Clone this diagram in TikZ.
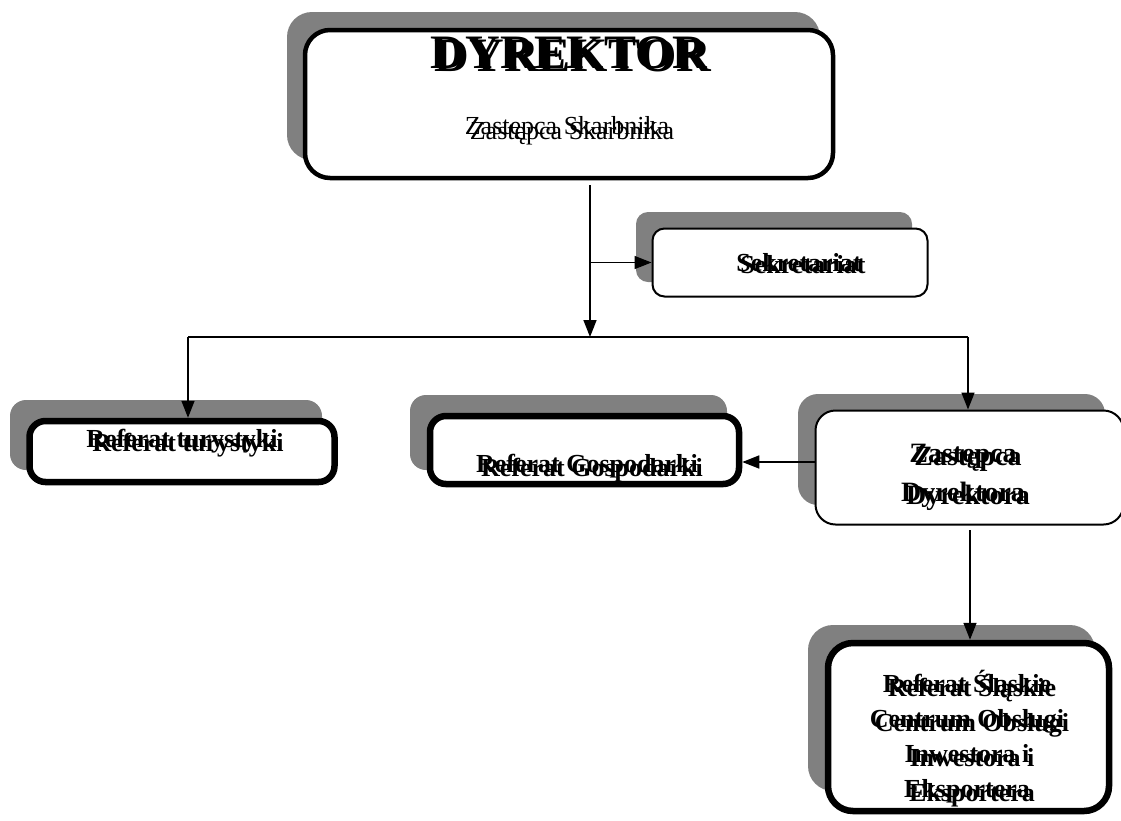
\documentclass[tikz,border=0pt]{standalone}
\usepackage{fontspec}
\setmainfont{Liberation Serif}
\usetikzlibrary{arrows.meta,calc}
\definecolor{shadowgray}{HTML}{808080}
\begin{document}
\begin{tikzpicture}[x=1pt,y=-1pt,
  box/.style={draw=black, fill=white, rectangle, inner sep=0pt},
  thickbox/.style={box, line width=6.5pt},
  thinbox/.style={box, line width=2pt},
  shd/.style={fill=shadowgray, draw=none, rectangle, inner sep=0pt},
  conn/.style={line width=1.6pt, draw=black},
  arr/.style={conn, -{Triangle[length=17pt,width=13pt]}},
  lbl/.style={font=\bfseries\fontsize{26}{35}\selectfont, align=center, inner sep=0pt, text=black},
  lblr/.style={font=\fontsize{26}{35}\selectfont, align=center, inner sep=0pt, text=black},
  big/.style={font=\bfseries\fontsize{48}{50}\selectfont, inner sep=0pt, text=black},
]
\useasboundingbox (0,0) rectangle (1121,820);
\fill[white] (0,0) rectangle (1121,820);

% shadows
\node[shd, minimum width=533pt, minimum height=148pt, rounded corners=25pt] (dyrS) at (553.5,86) {};
\node[shd, minimum width=276pt, minimum height=70pt, rounded corners=12pt] (sekS) at (774,247) {};
\node[shd, minimum width=312pt, minimum height=70pt, rounded corners=16pt] (turS) at (166,435) {};
\node[shd, minimum width=317pt, minimum height=75pt, rounded corners=16pt] (gosS) at (568.5,432.5) {};
\node[shd, minimum width=307pt, minimum height=111pt, rounded corners=20pt] (zasS) at (951.5,449.5) {};
\node[shd, minimum width=287pt, minimum height=166pt, rounded corners=25pt] (slaS) at (951.5,708) {};

% boxes
\node[box, line width=4.5pt, minimum width=528pt, minimum height=148pt, rounded corners=25pt] (dyr) at (569,104) {};
\node[thinbox, minimum width=275pt, minimum height=68pt, rounded corners=12pt] (sek) at (790,262.5) {};
\node[thickbox, minimum width=305pt, minimum height=61pt, rounded corners=16pt] (tur) at (182,451.5) {};
\node[thickbox, minimum width=309pt, minimum height=68pt, rounded corners=16pt] (gos) at (584.5,450) {};
\node[thinbox, minimum width=308pt, minimum height=114pt, rounded corners=20pt] (zas) at (969.5,467.5) {};
\node[thickbox, minimum width=281pt, minimum height=168pt, rounded corners=25pt] (sla) at (968.5,727) {};

% texts (printed twice, slightly offset, as in the reference)
\node[big] (dyrTa) at (569,53) {DYREKTOR};
\node[big] (dyrTb) at (573,56) {DYREKTOR};
\node[lblr] (skaTa) at (567,128) {Zastępca Skarbnika};
\node[lblr] (skaTb) at (572,133) {Zastępca Skarbnika};
\node[lbl] (sekTa) at (799,263) {Sekretariat};
\node[lbl] (sekTb) at (803,265) {Sekretariat};
\node[lbl] (turTa) at (182,441) {Referat turystyki};
\node[lbl] (turTb) at (188,445) {Referat turystyki};
\node[lbl] (gosTa) at (587,466) {Referat Gospodarki};
\node[lbl] (gosTb) at (592,470) {Referat Gospodarki};
\node[lbl, font=\bfseries\fontsize{28}{39}\selectfont] (zasTa) at (963,476) {Zastępca\\Dyrektora};
\node[lbl, font=\bfseries\fontsize{28}{39}\selectfont] (zasTb) at (968,479) {Zastępca\\Dyrektora};
\node[lbl] (slaTa) at (967,737) {Referat Śląskie\\Centrum Obsługi\\Inwestora i\\Eksportera};
\node[lbl] (slaTb) at (972,741) {Referat Śląskie\\Centrum Obsługi\\Inwestora i\\Eksportera};

% connectors
\coordinate (jc) at (590,337);
\coordinate (js) at (590,262.5);
\coordinate (hl) at (188,337);
\coordinate (hr) at (968,337);
\coordinate (gy) at (780,462);
\coordinate (zx) at (970,530);

\draw[arr] ([yshift=-5pt]dyr.south -| jc) -- (jc);
\draw[arr] (js) -- (sek.west);
\draw[conn] (hl) -- (hr);
\draw[arr] (hl) -- (tur.north -| hl);
\draw[arr] (hr) -- (zas.north -| hr);
\draw[arr] (zas.west |- gy) -- (gos.east |- gy);
\draw[arr] (zx) -- (sla.north -| zx);
\end{tikzpicture}
\end{document}
